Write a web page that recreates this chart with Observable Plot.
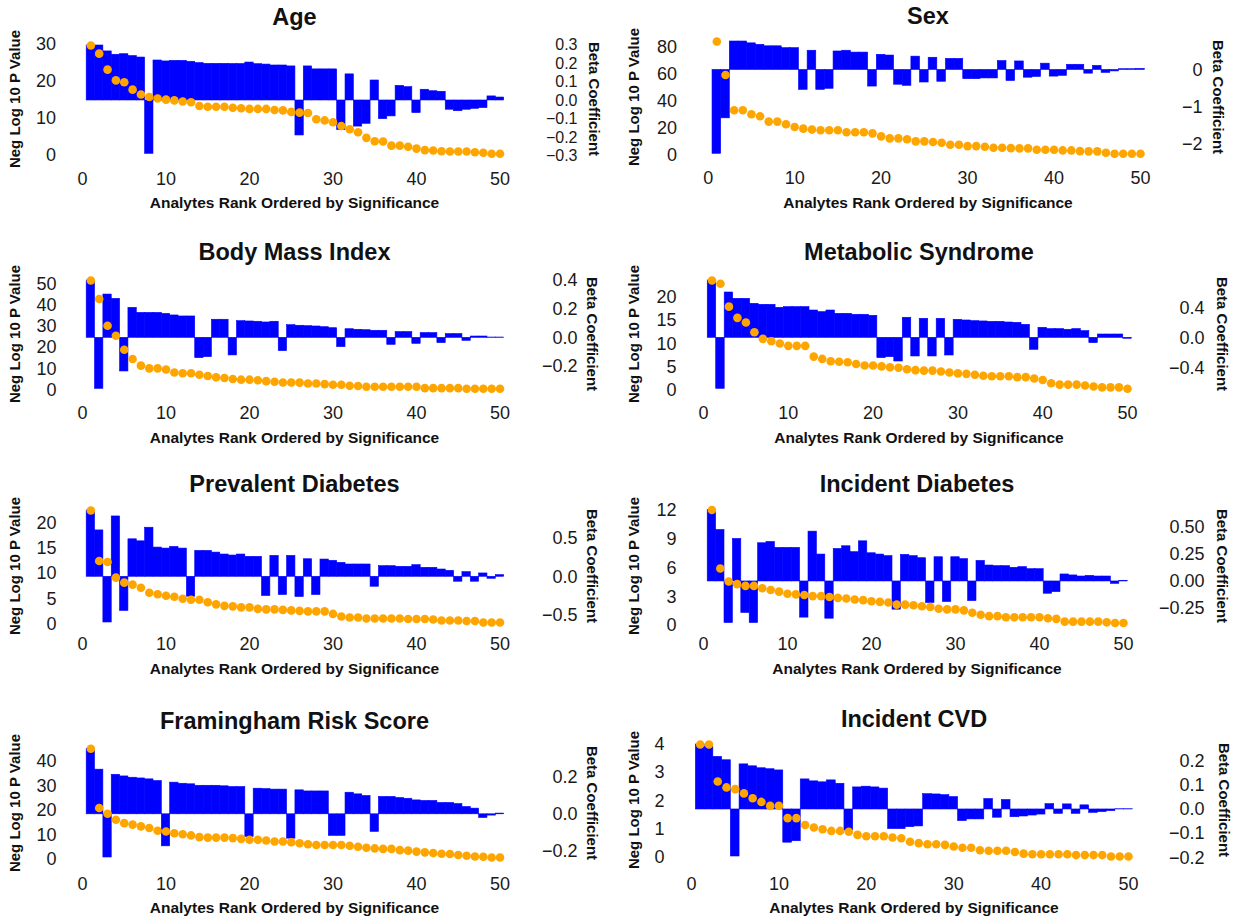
<!DOCTYPE html>
<html><head><meta charset="utf-8">
<script src="https://cdn.jsdelivr.net/npm/d3@7"></script>
<script src="https://cdn.jsdelivr.net/npm/@observablehq/plot@0.6"></script>
<style>
body{margin:0;background:#fff;font-family:"Liberation Sans",Arial,sans-serif;}
#page{position:relative;width:1239px;height:922px;overflow:hidden;background:#fff;}
.layer{position:absolute;}
.t{position:absolute;white-space:nowrap;color:#111;font-weight:bold;line-height:1;}
</style></head><body><div id="page"></div>
<script>
// ---------- data: neg log10 p (dots) and beta coefficient (bars), analytes ranked 1..50 ----------
const ageP = [29.7,27.5,23.2,20.3,19.8,17.8,16.5,15.8,15.4,15.1,14.9,14.6,14.4,13.4,13.2,13.2,13.2,12.9,12.8,12.6,12.6,12.6,12.3,12.2,11.8,11.6,11.5,9.8,9.5,9.0,8.0,7.1,6.3,4.8,3.9,3.8,2.7,2.7,2.4,1.9,1.5,1.4,1.2,1.1,1.1,1.1,0.9,0.8,0.5,0.5];
const ageBeta = [0.297,0.297,0.265,0.247,0.250,0.240,0.232,-0.288,0.216,0.211,0.214,0.214,0.209,0.202,0.198,0.198,0.198,0.197,0.197,0.205,0.196,0.194,0.189,0.189,0.184,-0.189,0.184,0.168,0.168,0.168,-0.159,0.141,-0.141,-0.126,0.108,-0.101,-0.086,0.079,0.072,-0.068,0.058,0.050,0.047,-0.050,-0.058,-0.050,-0.045,-0.041,0.022,0.016];

const sexP = [84.2,59.4,33.4,33.4,30.4,29.0,25.0,25.0,23.0,21.0,19.8,19.1,18.6,18.6,18.6,17.1,17.1,17.1,16.3,14.1,12.6,12.6,11.9,10.4,10.4,9.9,9.4,7.9,7.9,6.9,6.9,6.4,5.7,5.7,5.4,5.2,5.2,4.2,4.2,4.2,3.7,3.7,3.2,3.0,3.0,2.0,1.2,1.2,1.2,1.2];
const sexBeta = [-2.27,-1.31,0.77,0.77,0.72,0.68,0.64,0.64,0.59,0.59,-0.54,0.52,-0.54,-0.51,0.50,0.52,0.47,0.47,-0.45,0.41,0.39,-0.40,-0.43,0.36,-0.34,0.33,-0.32,0.30,0.30,-0.25,-0.25,-0.23,-0.23,0.24,-0.30,0.23,-0.21,-0.19,0.17,-0.18,-0.16,0.14,0.14,-0.10,0.11,-0.08,-0.04,0.02,0.02,0.03];

const bmiP = [51.6,42.9,30.3,25.6,19.0,14.6,11.5,10.2,10.2,9.7,8.3,7.9,7.9,7.2,6.6,6.0,5.7,5.2,4.9,4.9,4.6,4.2,3.9,3.6,3.6,3.5,3.1,3.1,2.8,2.5,2.5,2.0,1.9,1.6,1.6,1.6,1.6,1.6,1.6,1.6,0.9,0.9,0.9,0.9,0.9,0.6,0.6,0.6,0.6,0.6];
const bmiBeta = [0.40,-0.356,0.302,0.272,-0.235,0.209,0.174,0.174,0.174,0.167,0.156,0.149,0.149,-0.142,-0.135,0.126,0.126,-0.123,0.116,0.114,0.112,0.107,0.112,-0.093,0.088,0.084,0.081,0.079,0.074,0.067,-0.065,0.060,0.056,0.053,0.049,0.049,-0.049,0.040,0.040,-0.042,0.033,0.033,-0.037,0.026,0.026,-0.021,0.009,0.009,0.002,0.002];

const metsP = [23.6,22.9,18.0,15.6,14.6,12.5,11.1,10.6,10.1,9.6,9.6,9.6,7.3,6.8,6.3,6.2,6.1,5.7,5.4,5.4,5.2,5.0,4.9,4.6,4.4,4.3,4.3,4.1,3.9,3.7,3.6,3.4,3.2,3.1,3.1,3.1,2.9,2.9,2.6,2.3,1.6,1.3,1.3,1.3,1.1,0.9,0.7,0.7,0.7,0.4];
const metsBeta = [0.764,-0.68,0.604,0.52,0.52,0.453,0.44,0.44,0.40,0.409,0.409,0.409,0.364,0.342,0.364,0.32,0.32,0.307,0.307,0.293,-0.271,-0.258,-0.316,0.267,-0.249,0.253,-0.249,0.253,-0.236,0.24,0.231,0.222,0.218,0.213,0.213,0.204,0.20,0.173,-0.16,0.133,0.116,0.116,0.107,0.116,0.089,-0.071,0.044,0.044,0.044,-0.013];

const prevDmP = [22.5,12.5,12.3,9.2,8.2,7.8,7.2,6.2,5.9,5.6,5.4,5.0,4.8,4.8,4.3,3.9,3.6,3.5,3.3,3.3,3.0,2.9,2.9,2.8,2.7,2.6,2.5,2.5,2.5,2.0,1.5,1.3,1.3,1.1,1.1,1.1,1.1,1.1,1.0,1.0,1.0,0.9,0.7,0.7,0.7,0.6,0.6,0.3,0.3,0.3];
const prevDmBeta = [0.858,0.60,-0.592,0.781,-0.442,0.485,0.459,0.635,0.378,0.365,0.386,0.365,-0.258,0.335,0.335,0.313,0.288,0.275,0.288,0.258,0.258,-0.249,0.27,-0.236,0.27,-0.262,0.227,-0.236,0.223,0.206,0.18,0.159,0.159,0.159,-0.129,0.137,0.137,0.129,0.129,0.150,0.116,0.116,0.094,0.077,-0.064,0.06,-0.064,0.043,-0.026,0.021];

const incDmP = [12.0,5.93,4.59,4.31,4.13,4.13,3.88,3.71,3.53,3.32,3.25,3.18,3.07,3.07,2.97,2.89,2.82,2.72,2.65,2.54,2.47,2.40,2.19,2.19,2.12,2.01,1.94,1.76,1.69,1.69,1.59,1.34,1.13,0.99,0.99,0.88,0.88,0.88,0.88,0.88,0.78,0.71,0.42,0.42,0.42,0.42,0.42,0.35,0.28,0.28];
const incDmBeta = [0.664,0.478,-0.386,0.395,-0.293,-0.386,0.355,0.367,0.312,0.312,0.312,-0.336,0.463,0.25,-0.346,0.302,0.327,0.272,0.373,0.262,0.25,0.235,-0.262,0.247,0.235,0.216,-0.2,0.225,-0.191,0.225,0.207,-0.182,0.191,0.148,0.142,0.142,0.127,0.133,0.114,0.114,-0.114,-0.099,0.065,0.056,0.046,0.052,0.046,0.046,-0.022,0.003];

const frsP = [45.1,21.0,18.6,16.2,14.8,14.2,13.5,12.8,11.7,11.4,10.7,10.3,9.8,9.1,8.9,8.9,8.9,8.7,8.4,8.0,8.0,7.7,7.3,7.3,7.0,6.6,6.2,5.9,5.9,5.9,5.9,5.6,5.2,4.8,4.5,4.3,4.3,3.8,3.6,3.2,2.9,2.6,2.3,2.2,1.8,1.5,1.2,1.1,0.8,0.8];
const frsBeta = [0.358,0.244,-0.236,0.216,0.207,0.20,0.196,0.191,0.182,-0.175,0.173,0.167,0.164,0.156,0.156,0.156,0.153,0.149,0.149,-0.124,0.14,0.138,0.135,0.135,-0.133,0.131,0.125,0.125,0.125,-0.118,-0.118,0.118,0.109,0.10,-0.096,0.095,0.095,0.089,0.085,0.076,0.073,0.073,0.062,0.062,0.056,0.04,0.031,-0.02,-0.007,0.004];

const cvdP = [3.98,3.98,2.68,2.47,2.41,2.26,2.09,1.96,1.82,1.82,1.39,1.39,1.15,1.06,1.0,0.94,0.94,0.91,0.80,0.75,0.75,0.75,0.71,0.68,0.56,0.51,0.47,0.47,0.45,0.39,0.35,0.35,0.26,0.24,0.24,0.24,0.20,0.14,0.12,0.12,0.12,0.12,0.12,0.09,0.09,0.09,0.09,0.04,0.04,0.04];
const cvdBeta = [0.268,0.258,0.217,0.203,-0.194,0.186,0.178,0.170,0.166,0.161,-0.137,-0.131,0.124,0.116,0.112,0.12,0.106,-0.087,0.091,0.094,0.091,0.086,-0.081,-0.081,-0.073,-0.07,0.063,0.062,0.059,0.051,-0.048,-0.041,-0.041,0.043,-0.034,0.039,-0.032,-0.029,-0.025,-0.021,0.022,-0.018,0.021,-0.018,0.017,-0.014,-0.011,-0.007,0.001,0.001];

// tick labels
const xTicks = [0,10,20,30,40,50];
const titles = ["Age","Sex","Body Mass Index","Metabolic Syndrome","Prevalent Diabetes","Incident Diabetes","Framingham Risk Score","Incident CVD"];
const pTickSets = [[0,10,20,30],[0,20,40,60,80],[0,10,20,30,40,50],[0,5,10,15,20],[0,5,10,15,20],[0,3,6,9,12],[0,10,20,30,40],[0,1,2,3,4]];
const betaTickSets = [[-0.3,-0.2,-0.1,0,0.1,0.2,0.3],[-2,-1,0],[-0.2,0,0.2,0.4],[-0.4,0,0.4],[-0.5,0,0.5],[-0.25,0,0.25,0.5],[-0.2,0,0.2],[-0.2,-0.1,0,0.1,0.2]];
const betaFormats = [".1f","d",".1f",".1f",".1f",".2f",".1f",".1f"];
const pSeries = [ageP,sexP,bmiP,metsP,prevDmP,incDmP,frsP,cvdP];
const betaSeries = [ageBeta,sexBeta,bmiBeta,metsBeta,prevDmBeta,incDmBeta,frsBeta,cvdBeta];

// ---------- layout (page pixels) ----------
const layout = [
 {left:0,  top:0,   w:620, x0:82,    x50:499.5, yTop:45,    yBot:153.3, xTickY:178.3, lTick:55.5, rTick:577,  lTitle:14,  rTitle:594,  tX:294.5, tY:18,  xtY:203.3, rFont:16},
 {left:620,top:0,   w:619, x0:707.7, x50:1140,  yTop:41,    yBot:153.3, xTickY:177,   lTick:676.5,rTick:1202, lTitle:633, rTitle:1218, tX:928,   tY:17,  xtY:203.3, rFont:18},
 {left:0,  top:230, w:620, x0:82,    x50:499.5, yTop:280,   yBot:388.3, xTickY:412,   lTick:56,   rTick:577,  lTitle:14,  rTitle:592,  tX:294.5, tY:253, xtY:438,   rFont:18},
 {left:620,top:230, w:619, x0:703,   x50:1127,  yTop:280,   yBot:388.3, xTickY:412,   lTick:676,  rTick:1204, lTitle:633, rTitle:1222, tX:919,   tY:253, xtY:438,   rFont:18},
 {left:0,  top:460, w:620, x0:82,    x50:499.5, yTop:510,   yBot:622,   xTickY:643,   lTick:56,   rTick:577,  lTitle:14,  rTitle:592,  tX:294.5, tY:485, xtY:669,   rFont:18},
 {left:620,top:460, w:619, x0:703,   x50:1123,  yTop:509.5, yBot:622.5, xTickY:643,   lTick:676,  rTick:1204, lTitle:633, rTitle:1222, tX:917,   tY:485, xtY:669,   rFont:18},
 {left:0,  top:690, w:620, x0:82,    x50:499.5, yTop:748.3, yBot:857,   xTickY:883,   lTick:56,   rTick:577,  lTitle:14,  rTitle:592,  tX:294.5, tY:722, xtY:908,   rFont:18},
 {left:620,top:690, w:619, x0:691,   x50:1128,  yTop:744,   yBot:856,   xTickY:883,   lTick:664,  rTick:1204, lTitle:633, rTitle:1224, tX:914,   tY:720, xtY:908,   rFont:18}
];
const H = 232;
const FONT = '"Liberation Sans", Arial, sans-serif';
const page = document.getElementById("page");

function addText(txt, x, y, size, rot) {
  const d = document.createElement("div");
  d.className = "t";
  d.textContent = txt;
  d.style.left = x + "px";
  d.style.top = y + "px";
  d.style.fontSize = size + "px";
  d.style.transform = "translate(-50%,-50%)" + (rot ? ` rotate(${rot}deg)` : "");
  page.appendChild(d);
}

function place(svg, L) {
  svg.classList.add("layer");
  svg.style.left = L.left + "px";
  svg.style.top = L.top + "px";
  page.appendChild(svg);
}

titles.forEach((title, i) => {
  const L = layout[i];
  const rows = pSeries[i].map((p, k) => ({rank: k + 1, p, beta: betaSeries[i][k]}));
  const xr = [L.x0 - L.left, L.x50 - L.left];
  const yr = [L.yBot - L.top, L.yTop - L.top];
  const frameBottom = L.xTickY - L.top - 0.355 * 18;

  // bars (beta coefficient) with bottom and right axes
  const bars = Plot.plot({
    width: L.w, height: H,
    marginLeft: L.lTick - L.left, marginRight: L.w - (L.rTick - L.left),
    marginTop: 10, marginBottom: H - frameBottom,
    style: {fontFamily: FONT, fontSize: "18px", color: "#1a1a1a", background: "transparent", overflow: "visible"},
    x: {domain: [0, 50], range: xr},
    y: {domain: d3.extent(betaSeries[i]), range: yr, label: null},
    marks: [
      Plot.rect(rows, {x1: d => d.rank - 0.5, x2: d => d.rank + 0.5, y1: 0, y2: "beta", fill: "#0000ff", stroke: "#0000ff", strokeWidth: 0.6}),
      Plot.axisX({ticks: xTicks, tickSize: 0, tickPadding: 0, label: null, fontSize: 18}),
      Plot.axisY({anchor: "right", ticks: betaTickSets[i], tickFormat: d3.format(betaFormats[i]), tickSize: 0, tickPadding: 0, textAnchor: "end", label: null, fontSize: L.rFont})
    ]
  });
  place(bars, L);

  // dots (neg log10 p) with left axis
  const dots = Plot.plot({
    width: L.w, height: H,
    marginLeft: L.lTick - L.left, marginRight: 10, marginTop: 10, marginBottom: 10,
    style: {fontFamily: FONT, fontSize: "18px", color: "#1a1a1a", background: "transparent", overflow: "visible", pointerEvents: "none"},
    x: {domain: [0, 50], range: xr, axis: null},
    y: {domain: d3.extent(pSeries[i]), range: yr, label: null},
    marks: [
      Plot.dot(rows, {x: "rank", y: "p", r: 4.3, fill: "#ffa500"}),
      Plot.axisY({anchor: "left", ticks: pTickSets[i], tickFormat: d3.format("d"), tickSize: 0, tickPadding: 0, label: null, fontSize: 18})
    ]
  });
  place(dots, L);

  const mid = (L.yTop + L.yBot) / 2;
  addText(title, L.tX, L.tY, 23.5, 0);
  addText("Analytes Rank Ordered by Significance", L.tX, L.xtY, 15.5, 0);
  addText("Neg Log 10 P Value", L.lTitle, mid, 15, -90);
  addText("Beta Coefficient", L.rTitle, mid, 15, 90);
});
</script>
</body></html>
